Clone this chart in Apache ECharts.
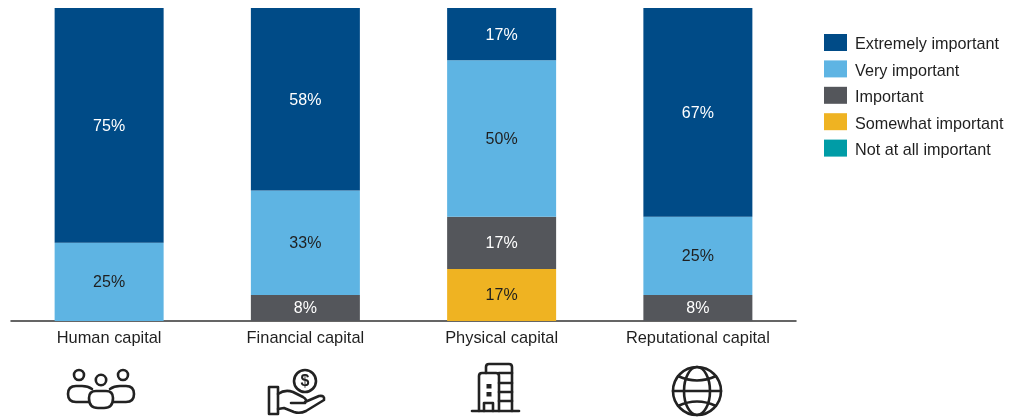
<!DOCTYPE html>
<html><head><meta charset="utf-8">
<style>html,body{margin:0;padding:0;background:#fff}#c{width:1021px;height:417px}</style>
<script src="https://cdn.jsdelivr.net/npm/echarts@6/dist/echarts.min.js"></script>
</head><body><div id="c"></div>
<script>
const categories = ['Human capital','Financial capital','Physical capital','Reputational capital'];
const extremelyImportant = [75, 58.3, 16.7, 66.7];
const veryImportant = [25, 33.4, 50, 25];
const important = [0, 8.3, 16.7, 8.3];
const somewhatImportant = [0, 0, 16.6, 0];
const notAtAllImportant = [0, 0, 0, 0];
const INK = '#1f1f1f';
const FONT = '"Liberation Sans", Arial, sans-serif';

const chart = echarts.init(document.getElementById('c'), null, {renderer:'canvas'});
function s(name, data, color, labelColor){
  return {name, type:'bar', stack:'t', data, barWidth:109,
    itemStyle:{color},
    label:{show:true, position:'inside', offset:[0,1], color:labelColor, fontFamily:FONT, fontSize:16,
      formatter:p=>p.value>0?Math.round(p.value)+'%':''}};
}
const ic = {fill:'none', stroke:'#222', lineWidth:2.6, lineCap:'round', lineJoin:'round'};
let pathId = 0;
const path = d => {
  const name = 'iconPath' + (pathId++);
  echarts.graphic.registerShape(name, echarts.graphic.extendPath(d, {}));
  return {type:name, style:ic, silent:true, z:10};
};
const circ = (cx,cy,r) => ({type:'circle', shape:{cx,cy,r}, style:ic, silent:true, z:10});
const rect = (x,y,w,h,fill) => ({type:'rect', shape:{x,y,width:w,height:h}, style:fill?{fill:'#222'}:ic, silent:true, z:10});
const line = (x1,y1,x2,y2) => ({type:'line', shape:{x1,y1,x2,y2}, style:ic, silent:true, z:10});
const icons = [
  // people
  circ(79,375,5), circ(101,380,5.2), circ(123,375,5),
  path('M92 389 Q88 386 82 386 L76 386 Q68 386 68 394 Q68 402 76 402 L89 402'),
  path('M110 389 Q114 386 120 386 L126 386 Q134 386 134 394 Q134 402 126 402 L113 402'),
  path('M89 398 Q89 391 96 391 L106 391 Q113 391 113 398 Q113 408 104 408 L98 408 Q89 408 89 398'),
  // money in hand
  circ(305,381,11),
  {type:'text', style:{x:305,y:381.5,text:'$',fill:'#222',font:'bold 16px '+FONT,align:'center',verticalAlign:'middle'},silent:true,z:10},
  rect(269,387,9,27),
  path('M278 394 Q285 389 293 392 L303 397 Q308 400 305 403 L291 403 M305 402 L319 396 Q325 395 324 400 L306 411 Q300 414 294 412 L284 408 L278 409'),
  // buildings
  line(472,411,519,411),
  path('M479 411 L479 376 Q479 373 482 373 L496 373 Q499 373 499 376 L499 411'),
  path('M486 373 L486 367 Q486 364 489 364 L509 364 Q512 364 512 367 L512 411'),
  line(499,373,512,373), line(499,383,512,383), line(499,392,512,392), line(499,401,512,401),
  rect(486.5,384,5,4.5,true), rect(486.5,392,5,4.5,true),
  path('M484 411 L484 403 L493 403 L493 411'),
  // globe
  circ(697,391,24),
  {type:'ellipse', shape:{cx:697,cy:391,rx:13,ry:24}, style:ic, silent:true, z:10},
  path('M678 376 Q697 385 716 376'),
  path('M678 406 Q697 397 716 406'),
  line(673,391,721,391)
];
chart.setOption({
  animation:false,
  textStyle:{fontFamily:FONT},
  grid:{left:11,right:225,top:8,bottom:96},
  legend:{orient:'vertical',left:819,top:29,itemWidth:23,itemHeight:17,itemGap:7.4,
    icon:'rect',selectedMode:false,
    data:['Extremely important','Very important','Important','Somewhat important','Not at all important'],
    formatter:n=>'{a|'+n+'}',
    textStyle:{color:INK,fontFamily:FONT,fontSize:16.2,
      rich:{a:{color:INK,fontFamily:FONT,fontSize:16.2,height:17,padding:[5,0,0,3]}}}},
  xAxis:{type:'category',data:categories,
    axisLine:{lineStyle:{color:'#333',width:1.5}},axisTick:{show:false},
    axisLabel:{color:INK,fontFamily:FONT,fontSize:16.4,margin:9.5}},
  yAxis:{type:'value',min:0,max:100,show:false,splitLine:{show:false}},
  series:[
    s('Not at all important',notAtAllImportant,'#009ca6','#fff'),
    s('Somewhat important',somewhatImportant,'#efb322',INK),
    s('Important',important,'#54565b','#fff'),
    s('Very important',veryImportant,'#5eb4e3',INK),
    s('Extremely important',extremelyImportant,'#004b87','#fff')
  ],
  graphic:{elements:icons}
});
</script></body></html>
